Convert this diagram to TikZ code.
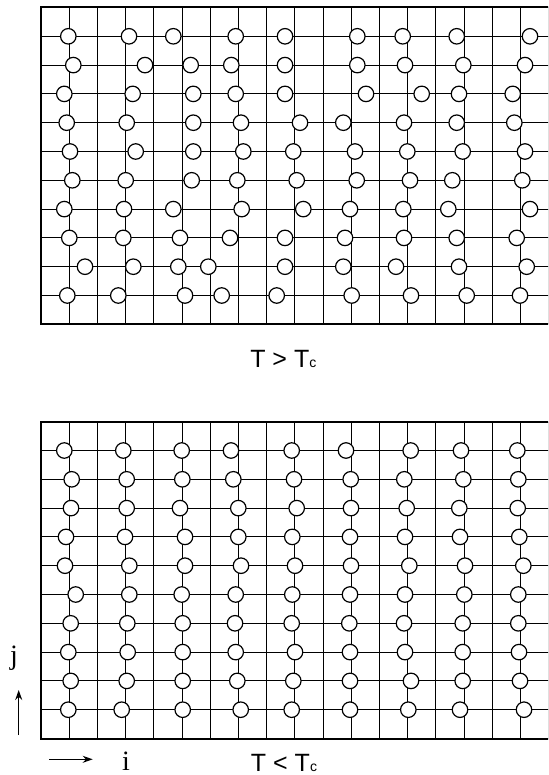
\documentclass[tikz,border=0pt]{standalone}
\usepackage{fontspec}
\setmainfont{Liberation Serif}
\setsansfont{Liberation Sans}
\usetikzlibrary{arrows.meta}

\newcommand{\subc}{{\fontsize{14}{14}\selectfont c}}
% lattice whose top edge sits at y=#1
\newcommand{\lattice}[1]{%
  \foreach \k in {1,...,18} \draw[gridline] ({41+28.2*\k},#1) -- ++(0,316.8);
  \foreach \k in {1,...,10} \draw[gridline] (41,{#1+28.8*\k}) -- ++(520,0);
  \draw[frame] (41,#1) rectangle (570,{#1+316.8});}

\begin{document}
\begin{tikzpicture}[x=1pt,y=-1pt, >={Stealth[length=10pt,width=7pt]},
  gridline/.style={line width=0.9pt},
  frame/.style={line width=2pt},
  spin/.style={draw,circle,fill=white,line width=1.2pt,minimum size=15.5pt,inner sep=0pt},
  temp/.style={font=\sffamily\fontsize{25}{25}\selectfont,anchor=base,inner sep=0pt},
  axis/.style={font=\fontsize{28}{28}\selectfont,anchor=base,inner sep=0pt},
  dir/.style={->,line width=1.3pt}]
\useasboundingbox (0,0) rectangle (548,775);
\begin{scope}
  \clip (0,0) rectangle (548,775);
  \lattice{7.5}
  \lattice{421.7}
\end{scope}
% T > Tc: scattered
\foreach \r/\xs in {
  1/{68.3,129,173.3,235.7,285,357.3,402.7,456.7,530},
  2/{73.3,145,190.7,231.3,285,357.3,405,463.3,525},
  3/{64.3,132.7,193.3,235.7,285,366,421.7,459,512.7},
  4/{66.7,126.7,193.3,241,300,343.3,404,456.7,514.3},
  5/{70,135.7,193.3,243.3,293.3,355,407.3,462.7,525},
  6/{72.3,125.7,191.7,237.3,296.7,356.7,410,452.3,522.3},
  7/{64.3,124,173.3,241.7,303.3,350,403.3,448.3,530},
  8/{69.3,123.3,180,230,285,345,404,456.7,516.7},
  9/{85,133.3,178.3,208.3,285,343.3,396,459,526.7},
  10/{67.3,118.3,185,221.7,276.7,351.7,411,466.7,520}}
  \foreach \x [count=\n] in \xs
    \node[spin] (hot-\r-\n) at (\x,{7.5+28.8*\r}) {};
% T < Tc: ordered
\foreach \r/\xs in {
  1/{64.3,123.3,181.7,231,291.7,346,410.7,461,517.3},
  2/{71.7,126.7,182.3,233.3,294,350.7,404.3,463.3,518.3},
  3/{71,126.7,180,238.3,296.7,351,406.7,459.3,517.7},
  4/{66,125,185,238.3,292.3,350,405,460,519.3},
  5/{65,129.3,185,241,295,351,409.3,465,523.3},
  6/{75.7,129.3,181.7,235.7,292.3,350,405,464.3,518.3},
  7/{70.7,127.3,182.7,235,291.7,349.3,404,462.7,518.3},
  8/{68.3,127.7,182.7,235.7,295,350,405,462.7,519},
  9/{70.7,126.7,182.7,237.3,293.3,350,411,462.7,520},
  10/{68.3,121.7,182.7,240.7,291.7,350,408.3,460,524}}
  \foreach \x [count=\n] in \xs
    \node[spin] (cold-\r-\n) at (\x,{421.7+28.8*\r}) {};

\node[temp] (above) at (283.3,367.3) {T > T\subc};
\node[temp] (below) at (284,771.2) {T < T\subc};
\node[axis] (jlab) at (14,664) {j};
\node[axis] (ilab) at (126,770.2) {i};
\coordinate (jtail) at (18.7,735);
\coordinate (jhead) at (18.7,690);
\coordinate (itail) at (49.3,759.3);
\coordinate (ihead) at (92.7,759.3);
\draw[dir] (jtail) -- (jhead);
\draw[dir] (itail) -- (ihead);
\end{tikzpicture}
\end{document}
